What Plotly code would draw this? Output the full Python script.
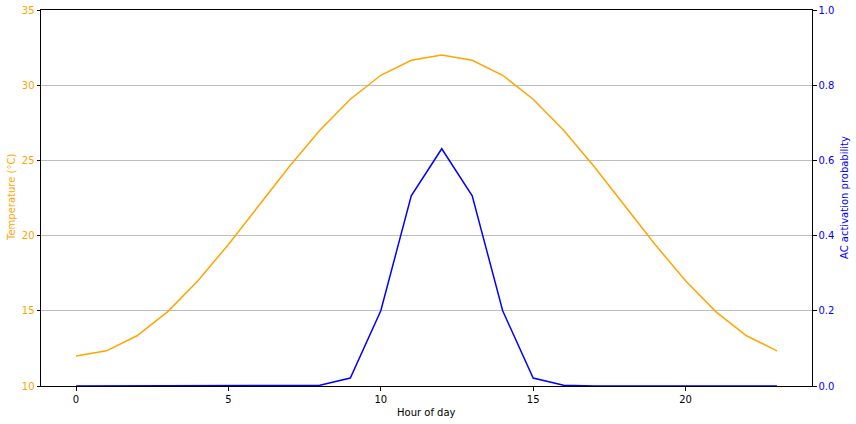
import plotly.graph_objects as go

hours = list(range(24))
temperature = [12.0, 12.34, 13.34, 14.93, 17.0, 19.41, 22.0, 24.59, 27.0, 29.07, 30.66, 31.66,
               32.0, 31.66, 30.66, 29.07, 27.0, 24.59, 22.0, 19.41, 17.0, 14.93, 13.34, 12.34]
ac_prob = [0.0, 0.0, 0.0, 0.0, 0.0, 0.0, 0.0, 0.0, 0.002, 0.021, 0.2, 0.506,
           0.631, 0.506, 0.2, 0.021, 0.002, 0.0, 0.0, 0.0, 0.0, 0.0, 0.0, 0.0]

temp_ticks = [10, 15, 20, 25, 30, 35]
prob_ticks = [0.0, 0.2, 0.4, 0.6, 0.8, 1.0]
hour_ticks = [0, 5, 10, 15, 20]

font = "DejaVu Sans, sans-serif"

fig = go.Figure()
fig.add_trace(go.Scatter(x=hours, y=temperature, mode="lines",
                         line=dict(color="orange", width=1.5), yaxis="y"))
fig.add_trace(go.Scatter(x=hours, y=ac_prob, mode="lines",
                         line=dict(color="blue", width=1.5), yaxis="y2"))

axis_common = dict(ticks="outside", ticklen=3.5, tickcolor="black", showline=True,
                   linecolor="black", linewidth=1, zeroline=False, automargin=False)

fig.update_layout(
    width=856, height=424, autosize=False,
    margin=dict(l=41, r=44, t=10, b=38),
    paper_bgcolor="white", plot_bgcolor="white",
    showlegend=False,
    font=dict(family=font, size=10, color="black"),
    xaxis=dict(range=[-1.15, 24.15], tickvals=hour_ticks, mirror=True, showgrid=False,
               **axis_common),
    yaxis=dict(range=[10, 35], tickvals=temp_ticks, tickfont=dict(color="orange"),
               mirror=True, showgrid=True, gridcolor="#bdbdbd", gridwidth=1, **axis_common),
    yaxis2=dict(range=[0, 1], tickvals=prob_ticks, tickformat=".1f",
                tickfont=dict(color="blue"), overlaying="y", side="right",
                showgrid=False, **axis_common),
)

fig.add_annotation(text="Hour of day", xref="paper", yref="paper", x=0.5, y=0,
                   yshift=-26, showarrow=False, yanchor="middle",
                   font=dict(size=10, color="black"))
fig.add_annotation(text="Temperature (°C)", xref="paper", yref="paper", x=0, y=0.5,
                   xshift=-30, textangle=-90, showarrow=False, xanchor="center",
                   font=dict(size=10, color="orange"))
fig.add_annotation(text="AC activation probability", xref="paper", yref="paper", x=1, y=0.5,
                   xshift=32, textangle=-90, showarrow=False, xanchor="center",
                   font=dict(size=10, color="blue"))

fig.write_html("out.html", config={"displayModeBar": False},
               post_script="document.body.style.margin='0';")
